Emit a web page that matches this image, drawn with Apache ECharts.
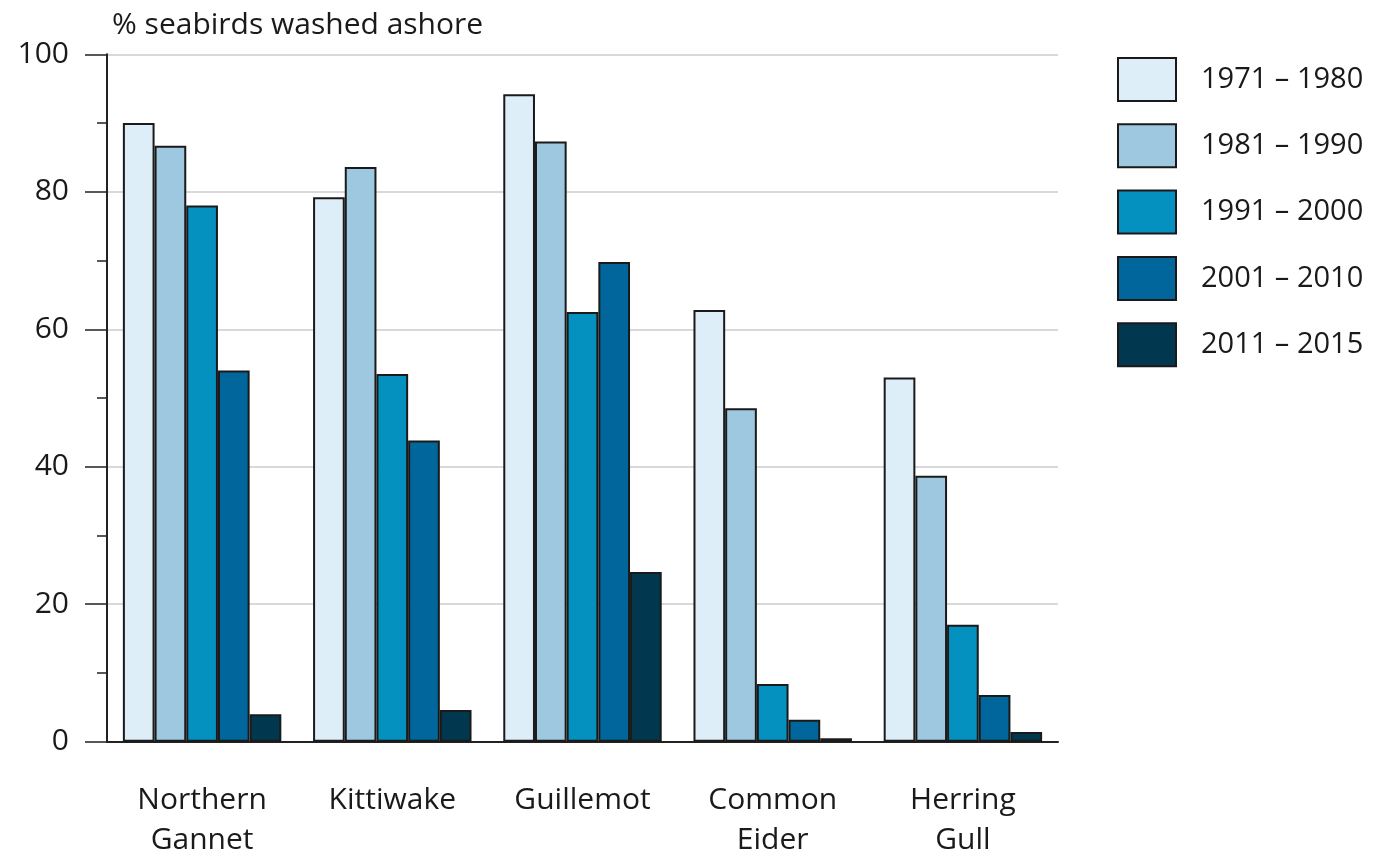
<!DOCTYPE html>
<html><head><meta charset="utf-8">
<script src="https://cdn.jsdelivr.net/npm/echarts@6/dist/echarts.min.js"></script>
<style>html,body{margin:0;padding:0;background:#fff}#c{width:1387px;height:857px}</style>
</head><body><div id="c"></div>
<script>
const categories = ["Northern\nGannet", "Kittiwake", "Guillemot", "Common\nEider", "Herring\nGull"];
const periods = ["1971 – 1980", "1981 – 1990", "1991 – 2000", "2001 – 2010", "2011 – 2015"];
const v1971 = [90, 79.2, 94.2, 62.8, 53];
const v1981 = [86.7, 83.6, 87.3, 48.5, 38.7];
const v1991 = [78, 53.5, 62.5, 8.4, 17];
const v2001 = [54, 43.8, 69.8, 3.2, 6.8];
const v2011 = [4, 4.6, 24.7, 0.5, 1.4];
const yTicks = [0, 20, 40, 60, 80, 100];
const colors = ["#deeef8", "#9dc8df", "#0591bf", "#00669b", "#02384f"];
const seriesData = [v1971, v1981, v1991, v2001, v2011];
const font = "'Open Sans', sans-serif";
const chart = echarts.init(document.getElementById('c'));
chart.setOption({
  animation: false,
  grid: {left: 107, right: 329, top: 54.3, bottom: 115.3, outerBoundsMode: 'none', containLabel: false},
  title: {text: "% seabirds washed ashore", left: 107, top: 5,
    textStyle: {fontFamily: font, fontSize: 30, fontWeight: 'normal', color: '#1a1a1a'}},
  legend: {orient: 'vertical', left: 1112, top: 52, itemWidth: 58, itemHeight: 43, itemGap: 21.3,
    icon: 'rect',
    data: periods,
    textStyle: {fontFamily: font, fontSize: 29, color: '#1a1a1a', padding: [0, 0, 0, 20]}},
  xAxis: {type: 'category', data: categories,
    axisLine: {lineStyle: {color: '#222', width: 2}},
    axisTick: {show: false},
    axisLabel: {fontFamily: font, fontSize: 30, color: '#1a1a1a', lineHeight: 40, margin: 39}},
  yAxis: {type: 'value', min: yTicks[0], max: yTicks[yTicks.length - 1], interval: 20,
    axisLine: {show: true, lineStyle: {color: '#222', width: 2}},
    axisTick: {show: true, length: 22, lineStyle: {color: '#222', width: 1.5}},
    minorTick: {show: true, splitNumber: 2, length: 10, lineStyle: {color: '#222', width: 1.5}},
    splitLine: {lineStyle: {color: '#cccccc', width: 1.5}},
    axisLabel: {fontFamily: font, fontSize: 30, color: '#1a1a1a', margin: 38, padding: [6, 0, 0, 0]}},
  series: periods.map((p, i) => ({
    name: p, type: 'bar', data: seriesData[i],
    barGap: '0%', barCategoryGap: '16.7%',
    itemStyle: {color: colors[i], borderColor: '#1a1a1a', borderWidth: 2}
  }))
});
</script></body></html>
